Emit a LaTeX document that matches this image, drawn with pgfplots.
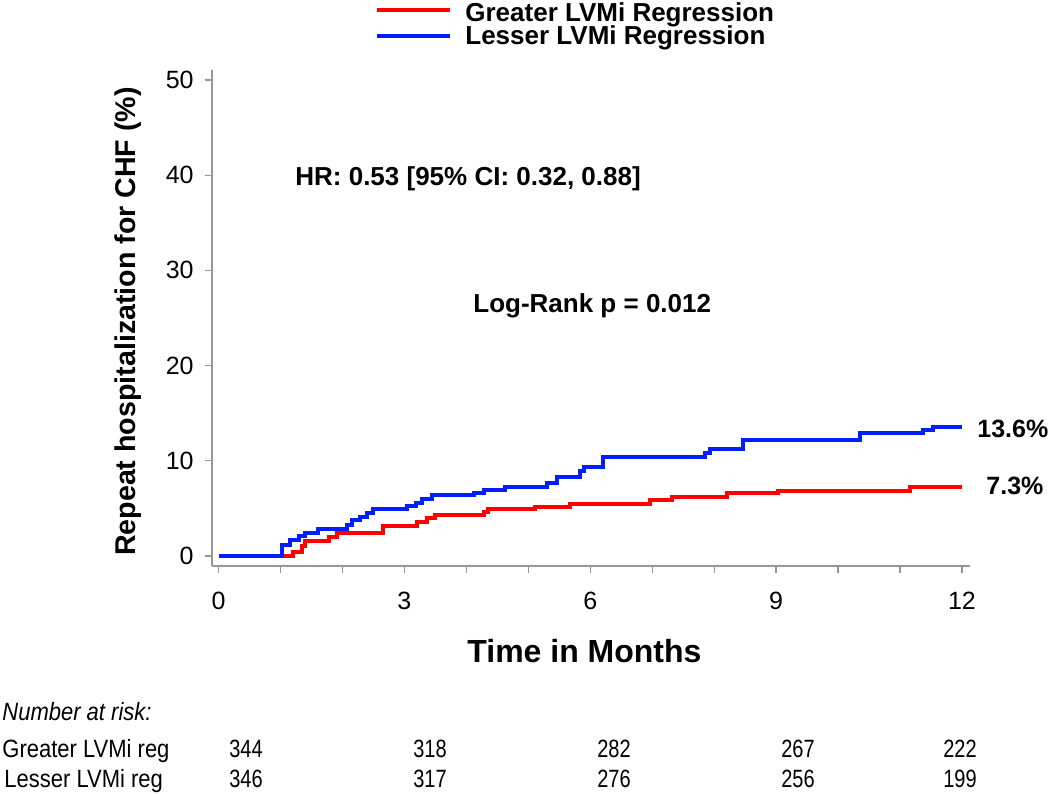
\documentclass[border=0pt]{standalone}
\usepackage{pgfplots}
\pgfplotsset{compat=1.18}
\usepackage{fontspec}
\setmainfont{Liberation Sans}
\definecolor{kmred}{RGB}{255,0,0}
\definecolor{kmblue}{RGB}{0,30,255}
\definecolor{axgray}{RGB}{150,150,150}
\begin{document}
\begin{tikzpicture}[x=0.5pt,y=0.5pt]
\path[use as bounding box] (0,0) rectangle (1050,793);
\begin{axis}[
  at={(105.85pt,113.5pt)}, anchor=south west,
  scale only axis, width=379.15pt, height=248pt,
  xmin=-0.11, xmax=12.13, ymin=-1.05, ymax=51.05,
  axis x line*=bottom, axis y line*=left,
  xtick={0,3,6,9,12}, minor xtick={1,2,4,5,7,8,10,11},
  ytick={0,10,20,30,40,50},
  tick align=outside,
  major tick length=3.5pt, minor tick length=3.5pt,
  tick style={axgray, line width=0.6pt},
  axis line style={axgray, line width=0.8pt},
  ticklabel style={font=\fontsize{12.5}{14}\selectfont},
  /pgf/number format/assume math mode=true,
  yticklabel style={xshift=-2pt},
  xticklabel style={yshift=-6pt},
  clip=false,
]
\addplot[const plot, color=kmred, line width=2pt] coordinates {
(0,0) (1.05,0) (1.20,0.4) (1.35,1.0) (1.40,1.55) (1.78,2.0) (1.92,2.4)
(2.66,3.1) (3.20,3.6) (3.37,4.0) (3.50,4.3) (4.28,4.6) (4.35,4.9)
(5.11,5.15) (5.68,5.5) (6.97,5.9) (7.32,6.2) (8.20,6.6) (9.03,6.8)
(11.16,7.3) (12.0,7.3)
};
\addplot[const plot, color=kmblue, line width=2pt] coordinates {
(0,0) (1.02,1.16) (1.16,1.7) (1.30,2.1) (1.39,2.45) (1.60,2.8)
(2.07,3.25) (2.15,3.8) (2.28,4.1) (2.39,4.5) (2.50,4.9) (3.04,5.2)
(3.18,5.6) (3.28,6.0) (3.45,6.4) (4.12,6.6) (4.29,6.9) (4.63,7.2)
(5.30,7.7) (5.47,8.3) (5.84,8.9) (5.90,9.4) (6.21,10.4) (7.85,10.8)
(7.94,11.2) (8.47,12.2) (10.35,12.9) (11.37,13.2) (11.53,13.6) (12.0,13.6)
};
\end{axis}
% legend
\draw[kmred, line width=1.6pt] (377,783) -- (450,783);
\draw[kmblue, line width=1.6pt] (377,757) -- (450,757);
\node[anchor=base west, inner sep=0pt, font=\fontsize{13}{15}\selectfont\bfseries] at (465,771) {Greater LVMi Regression};
\node[anchor=base west, inner sep=0pt, font=\fontsize{13}{15}\selectfont\bfseries] at (465,748) {Lesser LVMi Regression};
% annotations
\node[anchor=base west, inner sep=0pt, font=\fontsize{13}{15}\selectfont\bfseries] at (295,607) {HR: 0.53 [95\% CI: 0.32, 0.88]};
\node[anchor=base west, inner sep=0pt, font=\fontsize{13}{15}\selectfont\bfseries] at (473,480) {Log-Rank p = 0.012};
\node[anchor=base west, inner sep=0pt, font=\fontsize{12.5}{15}\selectfont\bfseries] at (977,355) {13.6\%};
\node[anchor=base west, inner sep=0pt, font=\fontsize{12.5}{15}\selectfont\bfseries] at (986,298) {7.3\%};
% axis labels
\node[anchor=base west, inner sep=0pt, font=\fontsize{16}{18}\selectfont\bfseries] at (467,130) {Time in Months};
\node[rotate=90, inner sep=0pt, font=\fontsize{14.3}{16}\selectfont\bfseries] at (128,471.5) {Repeat hospitalization for CHF (\%)};
% number at risk
\node[anchor=base west, inner sep=0pt, font=\fontsize{12.5}{14}\selectfont\itshape] at (2,73) {\scalebox{0.88}[1]{Number at risk:}};
\node[anchor=base west, inner sep=0pt, font=\fontsize{12.5}{14}\selectfont] at (2,36) {\scalebox{0.88}[1]{Greater LVMi reg}};
\node[anchor=base west, inner sep=0pt, font=\fontsize{12.5}{14}\selectfont] at (4,5) {\scalebox{0.88}[1]{Lesser LVMi reg}};
\foreach \xx/\a/\b in {246/344/346, 430/318/317, 614/282/276, 798/267/256, 960/222/199} {
  \node[anchor=base, inner sep=0pt, font=\fontsize{12.5}{14}\selectfont] at (\xx,36) {\scalebox{0.8}[1]{\a}};
  \node[anchor=base, inner sep=0pt, font=\fontsize{12.5}{14}\selectfont] at (\xx,5) {\scalebox{0.8}[1]{\b}};
}
\end{tikzpicture}
\end{document}
